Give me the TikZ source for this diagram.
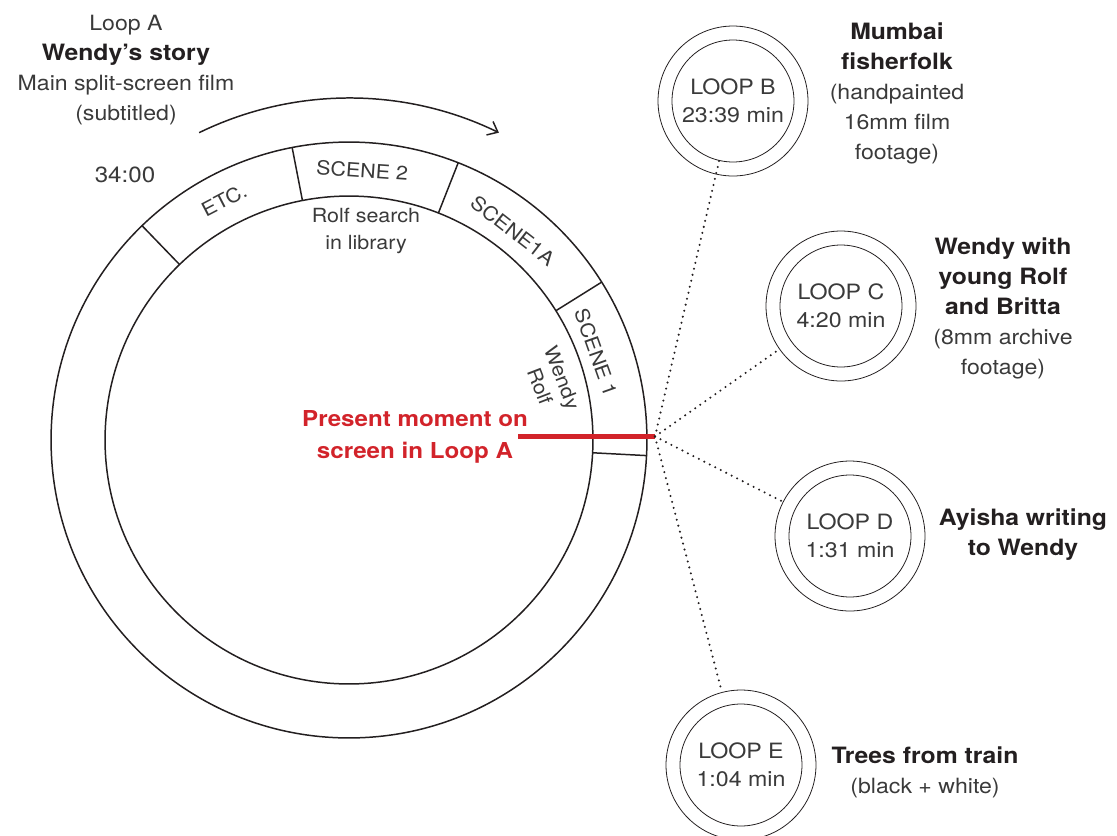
\documentclass[tikz,border=0pt]{standalone}
\usepackage{fontspec}
\setmainfont{TeX Gyre Heros}[FakeStretch=1.1]
\usetikzlibrary{calc,arrows.meta}
\definecolor{ink}{HTML}{231F20}
\definecolor{txt}{HTML}{3A3A3A}
\definecolor{redbar}{HTML}{D2232A}
\newcommand\fsreg{\fontsize{11.95pt}{17.07pt}\selectfont}
\newcommand\fsred{\fontsize{12.5pt}{18pt}\selectfont\bfseries}
\newcommand\fsring{\fontsize{11.1pt}{15.4pt}\selectfont}
\newcommand\fsloop{\fontsize{12pt}{16pt}\selectfont}
\newcommand\hd[1]{{\fontsize{12.8pt}{17.07pt}\selectfont\bfseries\color{ink}#1}}
\begin{document}
\begin{tikzpicture}[x=0.02cm,y=0.02cm,
  ring/.style={draw=ink, line width=0.85pt},
  lbl/.style={text=txt, font=\fsring, inner sep=0pt},
  loopout/.style={circle, draw=ink, line width=0.45pt, minimum size=3cm, inner sep=0pt},
  loopin/.style={circle, draw=ink, line width=0.45pt, minimum size=2.44cm, inner sep=0pt, align=center, text=txt, font=\fsloop},
  desc/.style={align=center, text=txt, font=\fsreg, inner sep=0pt},
  dots/.style={draw=ink, line width=1.3pt, line cap=round, dash pattern=on 0pt off 3.5pt},
]
\useasboundingbox (0,0) rectangle (1117,-836);
\coordinate (O) at (349,-440);
% main ring
\draw[ring] (O) circle[radius=5.96cm];
\draw[ring] (O) circle[radius=4.88cm];
\foreach \a in {-3,32,68.5,101,134}
  \draw[ring] ($(O)+(\a:4.88cm)$) -- ($(O)+(\a:5.96cm)$);
% direction arrow
\draw[ink, line width=0.85pt, -{Straight Barb[length=0.18cm,width=0.3cm]}]
  ($(O)+(116:6.84cm)$) arc[start angle=116, end angle=64, radius=6.84cm];
% ring labels
\node[lbl, rotate=27.5] (etc) at ($(O)+(117.5:5.41cm)$) {ETC.};
\node[lbl, rotate=-4] (s2) at ($(O)+(87.2:5.4cm)$) {SCENE 2};
\node[lbl, rotate=-38] (s1a) at ($(O)+(52:5.32cm)$) {SCENE1A};
\node[lbl, rotate=-70.5] (s1) at ($(O)+(19.5:5.24cm)$) {SCENE 1};
\node[lbl, align=center, rotate=-69, font={\fontsize{11.1pt}{13.5pt}\selectfont}] (wr) at (551,-382) {Wendy\\Rolf};
\node[lbl, align=center] (rs) at (366,-231) {Rolf search\\in library};
% Loop A title
\node[desc] (TA) at (126,-70) {Loop A\\\hd{Wendy’s story}\\Main split-screen film\\(subtitled)};
\node[desc, font={\fontsize{12.5pt}{15pt}\selectfont}] (t34) at (125,-175) {34:00};
% present moment
\coordinate (F) at (655,-436.5);
\coordinate (R) at (518,-436.5);
\draw[redbar, line width=3.1pt] (R) -- (F);
\node[text=redbar, font=\fsred, align=center, inner sep=0pt] (pm) at (415,-437) {Present moment on\\screen in Loop A};
% loops
\node[loopout] (LB) at (733,-101) {};
\node[loopin] (LBi) at (733,-101) {LOOP B\\23:39 min};
\node[loopout] (LC) at (841,-306) {};
\node[loopin] (LCi) at (841,-306) {LOOP C\\4:20 min};
\node[loopout] (LD) at (850,-536) {};
\node[loopin] (LDi) at (850,-536) {LOOP D\\1:31 min};
\node[loopout] (LE) at (741,-765) {};
\node[loopin] (LEi) at (741,-765) {LOOP E\\1:04 min};
% dotted connectors
\draw[dots] (F) -- (LBi);
\draw[dots] (F) -- (LC);
\draw[dots] (F) -- (LD);
\draw[dots] (F) -- (LE);
% loop descriptions
\node[desc] (TB) at (897,-93) {\hd{Mumbai}\\\hd{fisherfolk}\\(handpainted\\16mm film\\footage)};
\node[desc] (TC) at (1003,-308) {\hd{Wendy with}\\\hd{young Rolf}\\\hd{and Britta}\\(8mm archive\\footage)};
\node[desc] (TD) at (1023,-535) {\hd{Ayisha writing}\\\hd{to Wendy}};
\node[desc] (TE) at (925,-772) {\hd{Trees from train}\\(black + white)};
\end{tikzpicture}
\end{document}
